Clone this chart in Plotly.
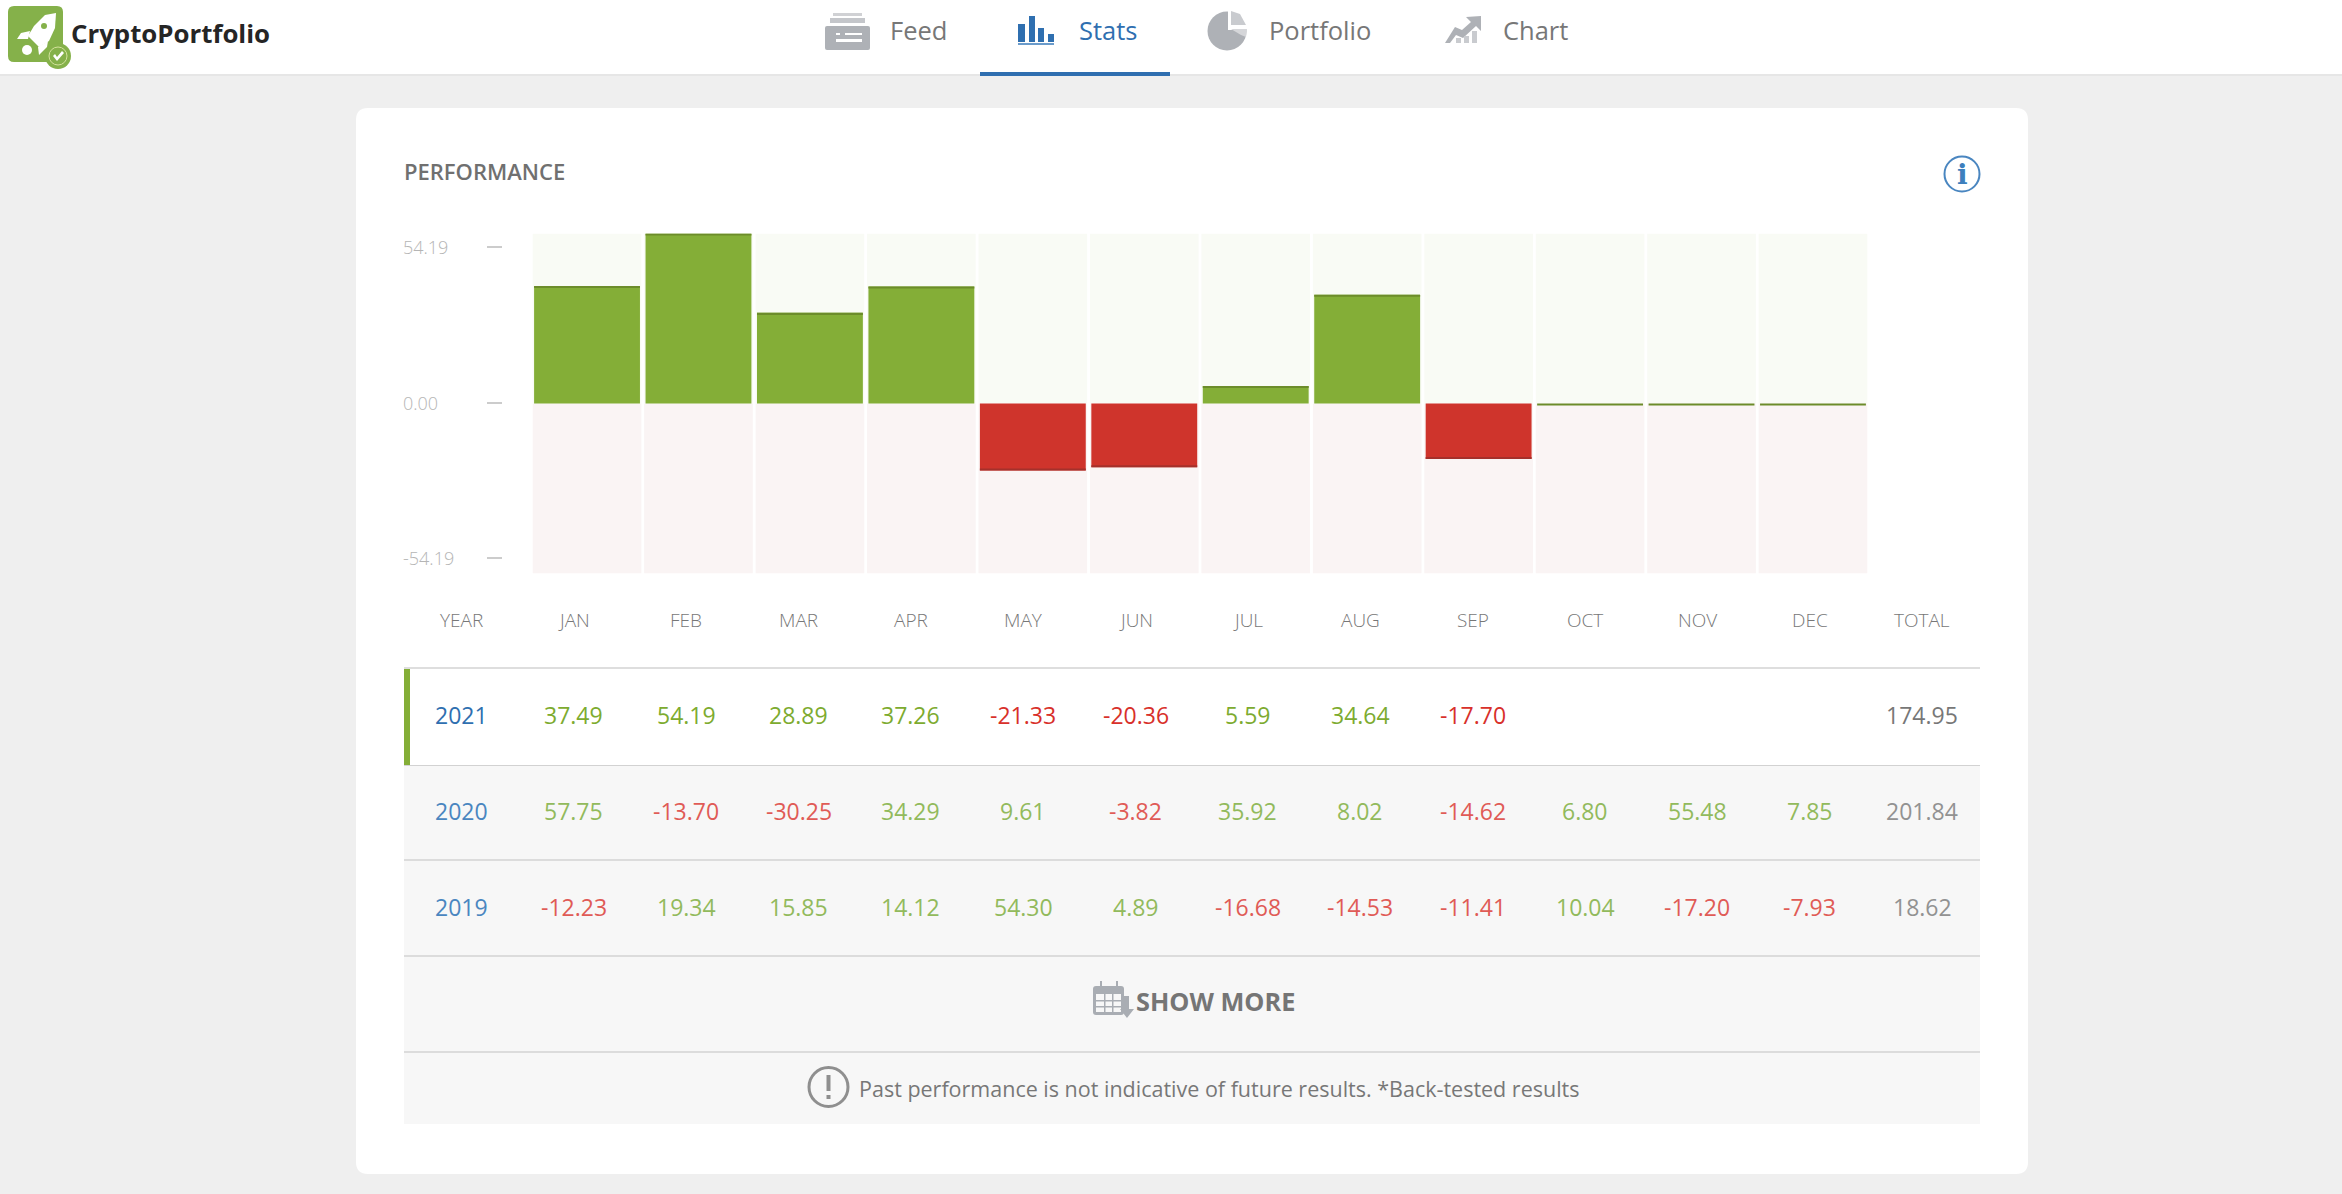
import plotly.graph_objects as go

W, H = 2342, 1194

months = ["JAN", "FEB", "MAR", "APR", "MAY", "JUN", "JUL", "AUG", "SEP", "OCT", "NOV", "DEC"]
# current year shown in the bars, months without result sit at zero
bar_values = [37.49, 54.19, 28.89, 37.26, -21.33, -20.36, 5.59, 34.64, -17.70, 0, 0, 0]
axis_max = 54.19
tick_places = [50.0, 0.3, -49.4]
tick_labels = ["54.19", "0.00", "-54.19"]

header_labels = ["YEAR"] + months + ["TOTAL"]
years = ["2021", "2020", "2019"]
row_2021 = ["37.49", "54.19", "28.89", "37.26", "-21.33", "-20.36", "5.59", "34.64", "-17.70", "", "", ""]
row_2020 = ["57.75", "-13.70", "-30.25", "34.29", "9.61", "-3.82", "35.92", "8.02", "-14.62", "6.80", "55.48", "7.85"]
row_2019 = ["-12.23", "19.34", "15.85", "14.12", "54.30", "4.89", "-16.68", "-14.53", "-11.41", "10.04", "-17.20", "-7.93"]
totals = ["174.95", "201.84", "18.62"]
nav_labels = ["Feed", "Stats", "Portfolio", "Chart"]

GREEN, GREEN_EDGE, GREEN_BG = "#84ae37", "#6c8c2a", "#f9fbf5"
RED, RED_EDGE, RED_BG = "#cf342c", "#a5302b", "#faf4f4"
BLUE = "#2f6fb0"
ICON = "#aeb1b6"
ROW_BG = "#f7f7f7"
FONT = "Open Sans"


def fx(x):
    return x / W


def fy(y):
    return 1 - y / H


shapes = []
annotations = []


def rect(x0, y0, x1, y1, color):
    shapes.append(dict(type="rect", xref="paper", yref="paper", x0=fx(x0), x1=fx(x1), y0=fy(y0), y1=fy(y1),
                       fillcolor=color, line_width=0, layer="below"))


def circle(cx, cy, r, fill, line=None, lw=0):
    shapes.append(dict(type="circle", xref="paper", yref="paper", x0=fx(cx - r), x1=fx(cx + r),
                       y0=fy(cy - r), y1=fy(cy + r), fillcolor=fill, line=dict(color=line, width=lw),
                       layer="below"))


def poly(points, color):
    d = "M " + " L ".join(f"{fx(x)} {fy(y)}" for x, y in points) + " Z"
    shapes.append(dict(type="path", xref="paper", yref="paper", path=d, fillcolor=color, line_width=0,
                       layer="below"))


def rounded(x0, y0, x1, y1, r, color):
    d = (f"M {fx(x0 + r)} {fy(y0)} L {fx(x1 - r)} {fy(y0)} Q {fx(x1)} {fy(y0)} {fx(x1)} {fy(y0 + r)} "
         f"L {fx(x1)} {fy(y1 - r)} Q {fx(x1)} {fy(y1)} {fx(x1 - r)} {fy(y1)} "
         f"L {fx(x0 + r)} {fy(y1)} Q {fx(x0)} {fy(y1)} {fx(x0)} {fy(y1 - r)} "
         f"L {fx(x0)} {fy(y0 + r)} Q {fx(x0)} {fy(y0)} {fx(x0 + r)} {fy(y0)} Z")
    shapes.append(dict(type="path", xref="paper", yref="paper", path=d, fillcolor=color, line_width=0,
                       layer="below"))


def label(x, y, text, size, color, anchor="center", weight=400, family=FONT):
    annotations.append(dict(xref="paper", yref="paper", x=fx(x), y=fy(y), text=text, showarrow=False,
                            xanchor=anchor, yanchor="middle", align=anchor,
                            font=dict(family=family, size=size, color=color, weight=weight)))


# page, header, card
rect(0, 0, W, 74, "#ffffff")
rect(0, 74, W, 76, "#e6e6e6")
rect(980, 72, 1170, 76, BLUE)
rounded(356, 108, 2028, 1174, 12, "#ffffff")

# logo
rounded(8, 6, 63, 62, 6, "#85b14a")
poly([(56, 13), (45, 15), (34, 26), (28, 36), (39, 47), (49, 41), (55, 28)], "#ffffff")
poly([(30, 31), (21, 33), (17, 39), (28, 39)], "#ffffff")
poly([(48, 41), (47, 47), (39, 55), (38, 47)], "#ffffff")
circle(27, 50, 5, "#ffffff")
circle(44, 26, 3, "#85b14a")
circle(58, 56, 13, "#85b14a")
circle(58, 56, 9, "#85b14a", "#d3e29c", 1)
poly([(53, 56), (55, 54), (57, 57), (62, 51), (64, 53), (57, 61)], "#ffffff")
label(69, 33, "CryptoPortfolio", 25.8, "#252525", "left", 700)

# feed icon
rect(833, 13, 862, 16, "#d0d1d4")
rect(830, 18, 865, 23, "#c4c6ca")
rounded(825, 26, 870, 50, 2, ICON)
rect(836, 33, 840, 35, "#ffffff")
rect(845, 33, 862, 35, "#ffffff")
rect(836, 39, 862, 42, "#ffffff")

# stats icon
for x0, x1, top in [(1018, 1025, 24), (1029, 1035, 16), (1038, 1044, 28), (1048, 1054, 34)]:
    rect(x0, top, x1, 42, BLUE)
rect(1018, 43, 1054, 45, "#6a9bcb")

# portfolio icon
circle(1227, 31, 19.5, ICON)
rect(1228, 10, 1248, 30, "#ffffff")
poly([(1231, 11), (1240, 14), (1246, 25), (1231, 25)], "#c9cbcf")
poly([(1231, 29), (1247, 29), (1246, 37), (1241, 35)], "#d5d6d9")

# chart icon
poly([(1445, 43), (1455, 27), (1462, 30), (1471, 22), (1466, 17), (1481, 16), (1481, 31), (1476, 26),
      (1463, 38), (1456, 35), (1450, 43)], ICON)
rect(1456, 38, 1461, 43, "#c9cbcf")
rect(1464, 36, 1469, 43, "#c9cbcf")
rect(1472, 31, 1477, 43, "#c9cbcf")

xs_nav = [888, 1077, 1267, 1501]
for x, name in zip(xs_nav, nav_labels):
    label(x, 30, name, 25.5, BLUE if name == "Stats" else "#777777", "left")

label(402, 171, "PERFORMANCE", 22, "#707070", "left", 600)

# info icon
circle(1962, 174, 17.5, "#ffffff", "#4a86c0", 2)
label(1962, 175, "i", 28, "#3d7fbd", "center", 700, "DejaVu Serif")

# table backgrounds
rect(404, 765, 1980, 1124, ROW_BG)
rect(404, 667, 1980, 669, "#dedede")
rect(404, 669, 1980, 765, "#ffffff")
rect(404, 669, 410, 766, GREEN)
rect(404, 765, 1980, 766, "#d2d2d2")
rect(404, 859, 1980, 861, "#dcdcdc")
rect(404, 955, 1980, 957, "#dcdcdc")
rect(404, 1051, 1980, 1053, "#dcdcdc")

col_x = [461.5 + 112.35 * i for i in range(14)]
for x, name in zip(col_x, header_labels):
    label(x, 619.5, name, 19, "#777777", weight=300)

row_y = [715, 811, 907]
rows = [row_2021, row_2020, row_2019]
for r, (y, yr, row, total) in enumerate(zip(row_y, years, rows, totals)):
    pos = "#7dab2f" if r == 0 else "#92ba5c"
    neg = "#d8302a" if r == 0 else "#e05b56"
    label(col_x[0], y, yr, 23, BLUE if r == 0 else "#4a86c0")
    for x, v in zip(col_x[1:13], row):
        if v:
            label(x, y, v, 23, neg if v.startswith("-") else pos)
    label(col_x[13], y, total, 23, "#777777" if r == 0 else "#929292")

# show more
rounded(1093, 986, 1124, 1015, 3, "#a9adb3")
rect(1096, 994, 1121, 1012, ROW_BG)
for x in (1104, 1112):
    rect(x, 994, x + 1.5, 1012, "#a9adb3")
for y in (1000, 1006):
    rect(1096, y, 1121, y + 1.5, "#a9adb3")
for x in (1100, 1116):
    rect(x, 981, x + 2, 989, "#a9adb3")
poly([(1124, 996), (1129, 996), (1129, 1009), (1134, 1009), (1127, 1018), (1120, 1009), (1124, 1009)], "#a9adb3")
label(1134, 1001, "SHOW MORE", 25.3, "#757575", "left", 700)

# disclaimer
circle(828.5, 1087, 19.5, "rgba(0,0,0,0)", "#8f8f8f", 3)
rect(826.5, 1075, 830.5, 1091, "#8f8f8f")
rect(826.5, 1095, 830.5, 1099, "#8f8f8f")
label(857, 1088.5, "Past performance is not indicative of future results. *Back-tested results", 21.5, "#777777", "left")

# y axis labels, left aligned at the table edge
for place, text in zip(tick_places, tick_labels):
    annotations.append(dict(xref="paper", yref="y", x=fx(401), y=place, text=text, showarrow=False,
                            xanchor="left", yanchor="middle",
                            font=dict(family=FONT, size=18, color="#b5b5b5", weight=300)))

# edge strip on the outer end of each bar, 2px tall at this scale
strip = 0.64
strip_base = [v for v in bar_values]
strip_size = [strip if v < 0 else -strip for v in bar_values]
strip_colors = [RED_EDGE if v < 0 else GREEN_EDGE for v in bar_values]

fig = go.Figure()
fig.add_trace(go.Bar(x=months, y=[axis_max] * 12, width=0.975, marker_color=GREEN_BG, marker_line_width=0))
fig.add_trace(go.Bar(x=months, y=[-axis_max] * 12, width=0.975, marker_color=RED_BG, marker_line_width=0))
fig.add_trace(go.Bar(x=months, y=bar_values, marker_color=[RED if v < 0 else GREEN for v in bar_values],
                     marker_line_width=0))
fig.add_trace(go.Bar(x=months, y=strip_size, base=strip_base, marker_color=strip_colors, marker_line_width=0))

fig.update_layout(
    width=W,
    height=H,
    margin=dict(l=0, r=0, t=0, b=0),
    autosize=False,
    barmode="overlay",
    bargap=0.05,
    showlegend=False,
    hovermode=False,
    paper_bgcolor="#efefef",
    plot_bgcolor="rgba(0,0,0,0)",
    shapes=shapes,
    annotations=annotations,
    xaxis=dict(domain=[fx(531.3), fx(1868.7)], visible=False, categoryorder="array", categoryarray=months),
    yaxis=dict(
        domain=[fy(573.5), fy(233.5)],
        range=[-axis_max, axis_max],
        anchor="free",
        position=fx(502),
        tickvals=tick_places,
        ticks="outside",
        ticklen=15,
        tickwidth=1.5,
        tickcolor="#cccccc",
        showticklabels=False,
        showgrid=False,
        zeroline=False,
        showline=False,
    ),
)

fig.write_html("out.html", config={"displayModeBar": False},
               post_script="document.body.style.margin='0';document.body.style.overflow='hidden';")
